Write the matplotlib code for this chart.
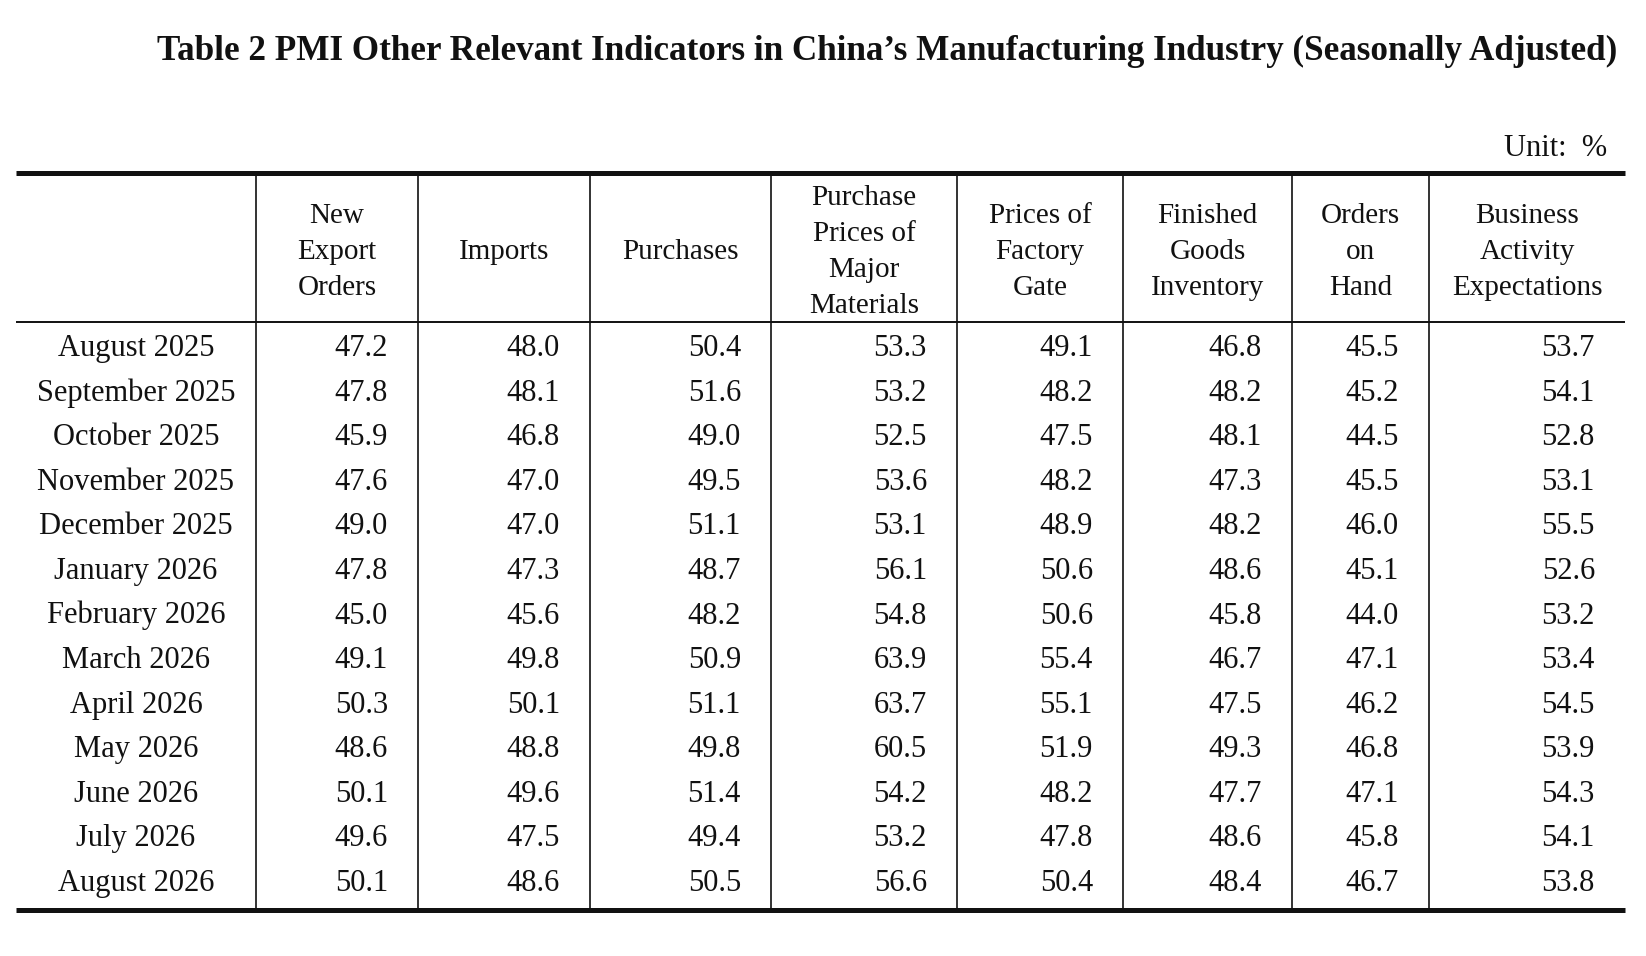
import matplotlib
matplotlib.use("Agg")
import matplotlib.pyplot as plt

# ---------------- data ----------------
title = "Table 2 PMI Other Relevant Indicators in China\u2019s Manufacturing Industry (Seasonally Adjusted)"
unit_label = "Unit:  %"
months = ["August 2025", "September 2025", "October 2025", "November 2025",
          "December 2025", "January 2026", "February 2026", "March 2026",
          "April 2026", "May 2026", "June 2026", "July 2026", "August 2026"]
headers = [
    ["New", "Export", "Orders"],
    ["Imports"],
    ["Purchases"],
    ["Purchase", "Prices of", "Major", "Materials"],
    ["Prices of", "Factory", "Gate"],
    ["Finished", "Goods", "Inventory"],
    ["Orders", "on", "Hand"],
    ["Business", "Activity", "Expectations"],
]
new_export_orders = [47.2, 47.8, 45.9, 47.6, 49.0, 47.8, 45.0, 49.1, 50.3, 48.6, 50.1, 49.6, 50.1]
imports = [48.0, 48.1, 46.8, 47.0, 47.0, 47.3, 45.6, 49.8, 50.1, 48.8, 49.6, 47.5, 48.6]
purchases = [50.4, 51.6, 49.0, 49.5, 51.1, 48.7, 48.2, 50.9, 51.1, 49.8, 51.4, 49.4, 50.5]
purchase_prices = [53.3, 53.2, 52.5, 53.6, 53.1, 56.1, 54.8, 63.9, 63.7, 60.5, 54.2, 53.2, 56.6]
factory_gate_prices = [49.1, 48.2, 47.5, 48.2, 48.9, 50.6, 50.6, 55.4, 55.1, 51.9, 48.2, 47.8, 50.4]
finished_goods_inventory = [46.8, 48.2, 48.1, 47.3, 48.2, 48.6, 45.8, 46.7, 47.5, 49.3, 47.7, 48.6, 48.4]
orders_on_hand = [45.5, 45.2, 44.5, 45.5, 46.0, 45.1, 44.0, 47.1, 46.2, 46.8, 47.1, 45.8, 46.7]
business_expectations = [53.7, 54.1, 52.8, 53.1, 55.5, 52.6, 53.2, 53.4, 54.5, 53.9, 54.3, 54.1, 53.8]

columns = [new_export_orders, imports, purchases, purchase_prices,
           factory_gate_prices, finished_goods_inventory, orders_on_hand,
           business_expectations]

# ---------------- layout (pixel coordinates) ----------------
W, H = 1646, 956
left, right = 16, 1625
col_edges = [left, 256, 418, 590, 771, 957, 1123, 1292, 1429, right]
top_y, sep_y, bot_y = 173, 322, 910
row_first, row_last = 345, 880
header_center, header_step = 249, 36
pad_right = 30
FONT = "Liberation Serif"
ink = "#111111"

fig = plt.figure(figsize=(W / 100, H / 100), dpi=100)
fig.patch.set_facecolor("white")
ax = fig.add_axes([0, 0, 1, 1])
ax.set_xlim(0, W)
ax.set_ylim(H, 0)
ax.axis("off")

# title and unit
ax.text(887, 60, title, ha="center", va="baseline", fontsize=25.3,
        fontweight="bold", family=FONT, color=ink)
ax.text(1607, 156, unit_label, ha="right", va="baseline", fontsize=22,
        family=FONT, color=ink)

# rules
ax.plot([left, right], [top_y, top_y], color=ink, lw=3.6, solid_capstyle="butt")
ax.plot([left, right], [bot_y, bot_y], color=ink, lw=3.6, solid_capstyle="butt")
ax.plot([left, right], [sep_y, sep_y], color=ink, lw=1.4, solid_capstyle="butt")
for x in col_edges[1:-1]:
    ax.plot([x, x], [top_y, bot_y], color=ink, lw=1.2, solid_capstyle="butt")

# headers
for j, lines in enumerate(headers):
    cx = (col_edges[j + 1] + col_edges[j + 2]) / 2
    n = len(lines)
    for k, line in enumerate(lines):
        cy = header_center + (k - (n - 1) / 2) * header_step
        ax.text(cx, cy + 10, line, ha="center", va="baseline", fontsize=21,
                family=FONT, color=ink)

# body
n_rows = len(months)
step = (row_last - row_first) / (n_rows - 1)
label_cx = (col_edges[0] + col_edges[1]) / 2
for i, m in enumerate(months):
    cy = row_first + i * step
    ax.text(label_cx, cy + 11, m, ha="center", va="baseline", fontsize=22,
            family=FONT, color=ink)
    for j, col in enumerate(columns):
        xr = col_edges[j + 2] - pad_right
        ax.text(xr, cy + 11, f"{col[i]:.1f}", ha="right", va="baseline",
                fontsize=22, family=FONT, color=ink)

fig.savefig("out.png", dpi=100, facecolor="white")
